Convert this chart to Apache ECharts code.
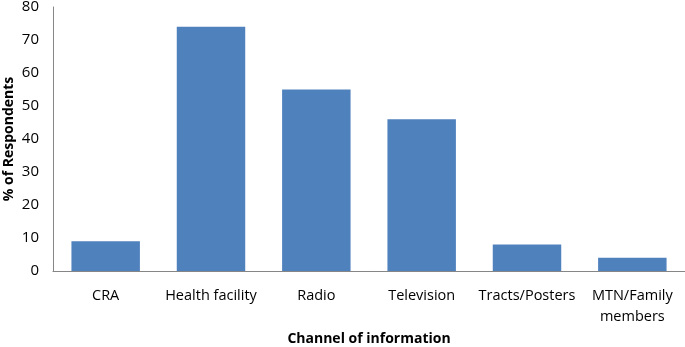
<!DOCTYPE html>
<html>
<head>
<meta charset="utf-8">
<script src="https://cdn.jsdelivr.net/npm/echarts@6/dist/echarts.min.js"></script>
<style>
html,body{margin:0;padding:0;background:#fff;}
#main{width:685px;height:347px;}
</style>
</head>
<body>
<div id="main"></div>
<script>
var channels = ['CRA', 'Health facility', 'Radio', 'Television', 'Tracts/Posters', 'MTN/Family\nmembers'];
var respondents = [9, 74, 55, 46, 8, 4];

var chart = echarts.init(document.getElementById('main'));

chart.setOption({
  animation: false,
  textStyle: {fontFamily: 'Open Sans'},
  grid: {left: 53, right: 0, top: 7, bottom: 76, outerBoundsMode: 'none', containLabel: false},
  xAxis: {
    type: 'category',
    data: channels,
    name: 'Channel of information',
    nameLocation: 'middle',
    nameGap: 61,
    nameMoveOverlap: false,
    nameTextStyle: {fontSize: 14, fontWeight: 'bold', color: '#000'},
    axisLine: {lineStyle: {color: '#868686'}},
    axisTick: {show: false},
    axisLabel: {color: '#000', fontSize: 14.5, margin: 14, lineHeight: 21, interval: 0}
  },
  yAxis: {
    type: 'value',
    min: 0,
    max: 80,
    interval: 10,
    name: '% of Respondents',
    nameLocation: 'middle',
    nameGap: 37,
    nameMoveOverlap: false,
    nameTextStyle: {fontSize: 14, fontWeight: 'bold', color: '#000'},
    axisLine: {show: true, lineStyle: {color: '#868686'}},
    axisTick: {show: false},
    splitLine: {show: false},
    axisLabel: {color: '#000', fontSize: 15, margin: 14}
  },
  series: [{
    type: 'bar',
    data: respondents,
    barCategoryGap: '35%',
    itemStyle: {color: '#4F81BD'}
  }]
});
</script>
</body>
</html>
